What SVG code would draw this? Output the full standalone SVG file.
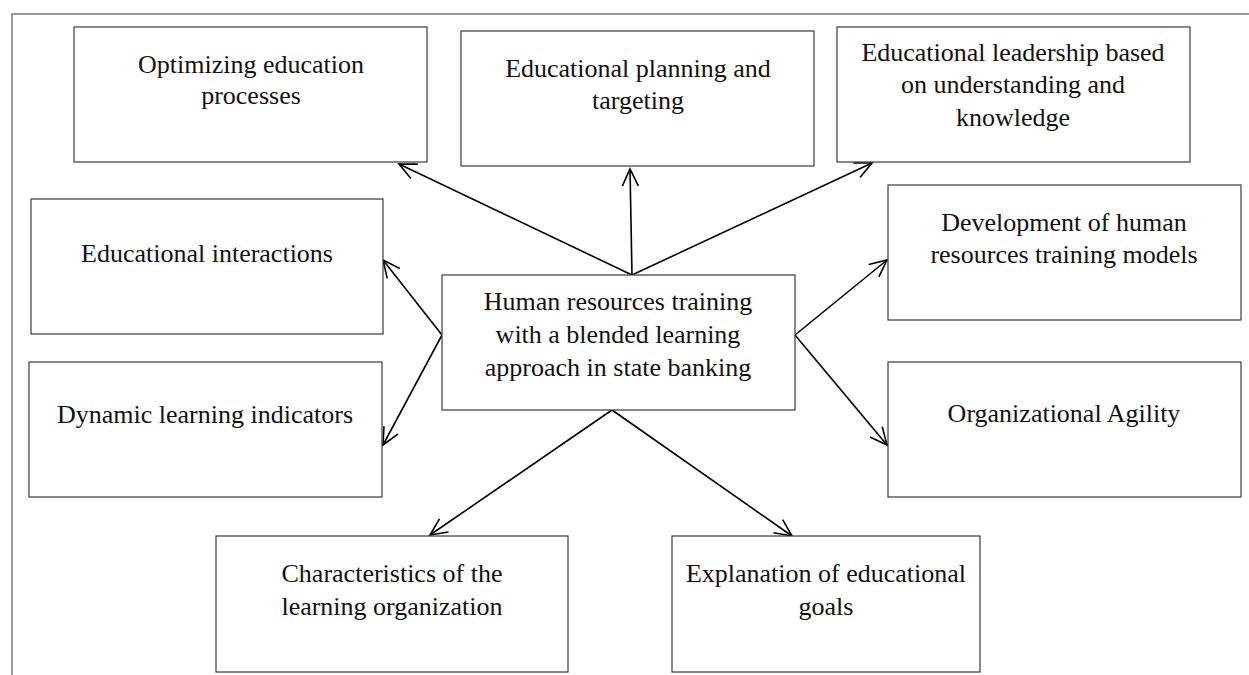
<svg xmlns="http://www.w3.org/2000/svg" width="1249" height="675" viewBox="0 0 1249 675">
<style>
.frame{fill:none;stroke:#7a7a7a;stroke-width:1.5}
.box{fill:#fff;stroke:#3a3a3a;stroke-width:1.2}
.lbl{font-family:"Liberation Serif","Times New Roman",serif;font-size:26px;fill:#111;text-anchor:middle}
.conn{fill:none;stroke:#000;stroke-width:1.6;marker-end:url(#arr)}
</style>
<defs>
<marker id="arr" viewBox="0 0 20 20" refX="18" refY="10" markerWidth="20" markerHeight="20" markerUnits="userSpaceOnUse" orient="auto">
<path d="M1,2 L18,10 L1,18" fill="none" stroke="#000" stroke-width="1.6"/>
</marker>
</defs>
<rect x="12" y="14" width="1250" height="680" class="frame"/>
<g id="connectors">
<line class="conn" x1="632" y1="275" x2="399" y2="164"/>
<line class="conn" x1="632" y1="275" x2="630" y2="169"/>
<line class="conn" x1="632" y1="275" x2="872" y2="163"/>
<line class="conn" x1="442" y1="335" x2="383" y2="260"/>
<line class="conn" x1="442" y1="335" x2="383" y2="445"/>
<line class="conn" x1="795" y1="335" x2="887" y2="260"/>
<line class="conn" x1="795" y1="335" x2="887" y2="445"/>
<line class="conn" x1="612" y1="410" x2="430" y2="535"/>
<line class="conn" x1="612" y1="410" x2="792" y2="536"/>
</g>
<g id="n1"><rect class="box" x="74" y="27" width="353" height="135"/>
<text class="lbl" x="251" y="73">Optimizing education</text><text class="lbl" x="251" y="104">processes</text></g>
<g id="n2"><rect class="box" x="461" y="31" width="353" height="135"/>
<text class="lbl" x="638" y="77">Educational planning and</text><text class="lbl" x="638" y="109">targeting</text></g>
<g id="n3"><rect class="box" x="837" y="27" width="353" height="135"/>
<text class="lbl" x="1013" y="61">Educational leadership based</text><text class="lbl" x="1013" y="93">on understanding and</text><text class="lbl" x="1013" y="126">knowledge</text></g>
<g id="n4"><rect class="box" x="31" y="199" width="352" height="135"/>
<text class="lbl" x="207" y="262">Educational interactions</text></g>
<g id="n5"><rect class="box" x="29" y="362" width="353" height="135"/>
<text class="lbl" x="205" y="423">Dynamic learning indicators</text></g>
<g id="center"><rect class="box" x="442" y="275" width="353" height="135"/>
<text class="lbl" x="618" y="310">Human resources training</text><text class="lbl" x="618" y="343">with a blended learning</text><text class="lbl" x="618" y="376">approach in state banking</text></g>
<g id="n6"><rect class="box" x="888" y="185" width="353" height="135"/>
<text class="lbl" x="1064" y="231">Development of human</text><text class="lbl" x="1064" y="263">resources training models</text></g>
<g id="n7"><rect class="box" x="888" y="362" width="353" height="135"/>
<text class="lbl" x="1064" y="422">Organizational Agility</text></g>
<g id="n8"><rect class="box" x="216" y="536" width="352" height="136"/>
<text class="lbl" x="392" y="582">Characteristics of the</text><text class="lbl" x="392" y="615">learning organization</text></g>
<g id="n9"><rect class="box" x="672" y="536" width="308" height="136"/>
<text class="lbl" x="826" y="582">Explanation of educational</text><text class="lbl" x="826" y="615">goals</text></g>
</svg>
